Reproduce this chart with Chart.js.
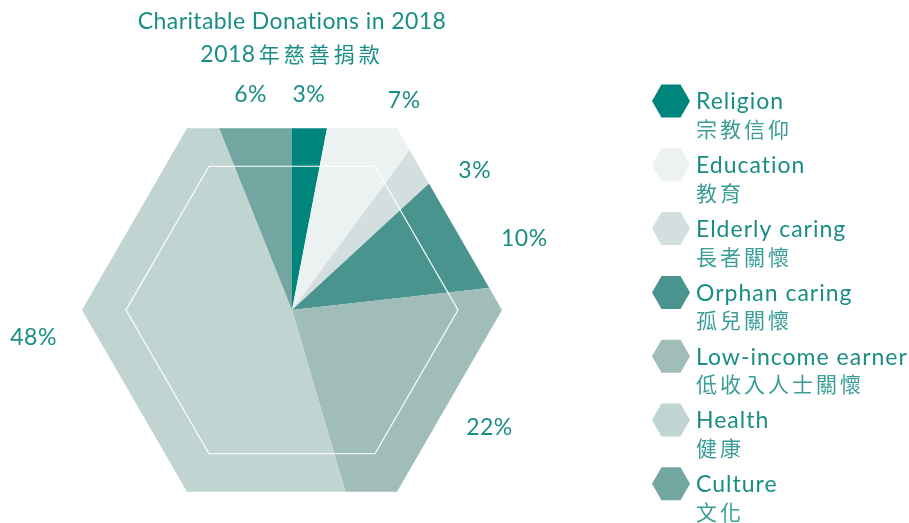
<!DOCTYPE html>
<html>
<head>
<meta charset="utf-8">
<script src="https://cdn.jsdelivr.net/npm/chart.js@4/dist/chart.umd.min.js"></script>
<style>
  html, body { margin: 0; padding: 0; background: #fff; }
  #wrap { width: 909px; height: 523px; position: relative; }
</style>
</head>
<body>
<div id="wrap"><canvas id="chart"></canvas></div>
<script>
const titleEn = "Charitable Donations in 2018";
const titleYear = "2018";
const titleZh = "年慈善捐款";
const categories = ["Religion", "Education", "Elderly caring", "Orphan caring", "Low-income earner", "Health", "Culture"];
const categoriesZh = ["宗教信仰", "教育", "長者關懷", "孤兒關懷", "低收入人士關懷", "健康", "文化"];
const percents = [3, 7, 3, 10, 22, 48, 6];
const colors = ["#00857c", "#ecf2f2", "#d3dfde", "#4a948f", "#a0bdba", "#c0d4d1", "#72a6a0"];

// label placement: angle nudge (deg) from slice middle, distance from centre (px)
const labelNudge = [-1, 4.5, 10.8, 7.5, -2.8, 12.9, 0];
const labelDist = [216, 238, 230, 243, 230, 260, 219];

const TEXT = "#1a8e86";
const TEXT_ZH = "#3a9d96";
const EN_FONT = "Lato, 'Open Sans', sans-serif";
const ZH_FONT = "'Noto Sans CJK TC', 'Noto Sans CJK SC', sans-serif";

function hexPath(ctx, cx, cy, r) {
  ctx.beginPath();
  for (let k = 0; k < 6; k++) {
    const a = k * Math.PI / 3;
    const x = cx + r * Math.cos(a), y = cy + r * Math.sin(a);
    if (k === 0) ctx.moveTo(x, y); else ctx.lineTo(x, y);
  }
  ctx.closePath();
}

const hexPie = {
  id: "hexPie",
  beforeDatasetsDraw(chart) {
    const arc = chart.getDatasetMeta(0).data[0];
    const ctx = chart.ctx;
    ctx.save();
    hexPath(ctx, arc.x, arc.y, 210);
    ctx.clip();
  },
  afterDatasetsDraw(chart) {
    const ctx = chart.ctx;
    ctx.restore();
    const arcs = chart.getDatasetMeta(0).data;
    const cx = arcs[0].x, cy = arcs[0].y;

    // inner outline
    ctx.save();
    ctx.strokeStyle = "#ffffff";
    ctx.lineWidth = 1.2;
    hexPath(ctx, cx, cy, 166);
    ctx.stroke();
    ctx.restore();

    // percentage labels
    ctx.save();
    ctx.fillStyle = TEXT;
    ctx.font = "23px " + EN_FONT;
    ctx.letterSpacing = "0.5px";
    ctx.textAlign = "center";
    ctx.textBaseline = "middle";
    arcs.forEach((a, i) => {
      const mid = (a.startAngle + a.endAngle) / 2 + labelNudge[i] * Math.PI / 180;
      const x = cx + labelDist[i] * Math.cos(mid);
      const y = cy + labelDist[i] * Math.sin(mid);
      ctx.fillText(percents[i] + "%", x, y);
    });

    // title
    ctx.font = "23px " + EN_FONT;
    ctx.letterSpacing = "0.4px";
    ctx.fillText(titleEn, cx, 22);
    ctx.textAlign = "left";
    ctx.letterSpacing = "0.5px";
    const wYear = ctx.measureText(titleYear).width;
    ctx.font = "21px " + ZH_FONT;
    ctx.letterSpacing = "4px";
    const wZh = ctx.measureText(titleZh).width;
    const x0 = cx - (wYear + 3 + wZh) / 2;
    ctx.fillText(titleZh, x0 + wYear + 3, 54);
    ctx.font = "23px " + EN_FONT;
    ctx.letterSpacing = "0.5px";
    ctx.fillText(titleYear, x0, 55);
    ctx.restore();

    // legend
    ctx.save();
    const lx = 671, ly0 = 101, pitch = 63.8;
    categories.forEach((name, i) => {
      const y = ly0 + i * pitch;
      ctx.fillStyle = colors[i];
      ctx.beginPath();
      ctx.moveTo(lx - 19, y);
      ctx.lineTo(lx - 9.5, y - 16.5);
      ctx.lineTo(lx + 9.5, y - 16.5);
      ctx.lineTo(lx + 19, y);
      ctx.lineTo(lx + 9.5, y + 16.5);
      ctx.lineTo(lx - 9.5, y + 16.5);
      ctx.closePath();
      ctx.fill();
      ctx.fillStyle = TEXT;
      ctx.textAlign = "left";
      ctx.textBaseline = "middle";
      ctx.font = "23px " + EN_FONT;
      ctx.letterSpacing = "1px";
      ctx.fillText(name, 696, y + 1);
      ctx.fillStyle = TEXT_ZH;
      ctx.font = "21px " + ZH_FONT;
      ctx.letterSpacing = "3px";
      ctx.fillText(categoriesZh[i], 696, y + 28);
    });
    ctx.restore();
  }
};

new Chart(document.getElementById("chart"), {
  type: "pie",
  data: {
    labels: categories,
    datasets: [{
      data: percents,
      backgroundColor: colors,
      borderWidth: 0
    }]
  },
  options: {
    responsive: true,
    maintainAspectRatio: false,
    animation: false,
    layout: { padding: { left: 80, right: 405, top: 98, bottom: 1 } },
    plugins: {
      legend: { display: false },
      tooltip: { enabled: false },
      title: { display: false }
    }
  },
  plugins: [hexPie]
});
</script>
</body>
</html>
